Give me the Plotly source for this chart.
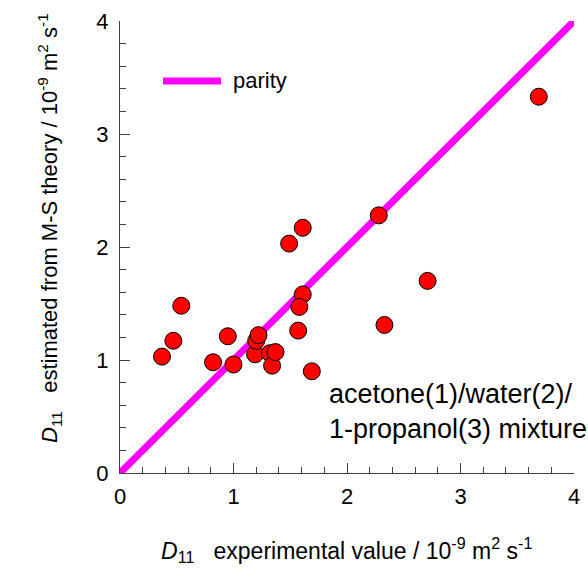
import plotly.graph_objects as go

# experimental D11 (x) vs M-S estimated D11 (y), 10^-9 m2/s
d11_exp = [0.37, 0.47, 0.54, 0.82, 0.95, 1.00, 1.19, 1.20, 1.22, 1.32, 1.34, 1.37,
           1.49, 1.61, 1.61, 1.58, 1.57, 1.69, 2.28, 2.71, 2.33, 3.69]
d11_ms = [1.03, 1.17, 1.48, 0.98, 1.21, 0.96, 1.05, 1.17, 1.22, 1.06, 0.95, 1.07,
          2.03, 2.17, 1.58, 1.47, 1.26, 0.90, 2.28, 1.70, 1.31, 3.33]
parity = [0, 4]

FONT = "Liberation Sans, Arial, sans-serif"
MAG = "#FF00FF"
AX = "#404040"

fig = go.Figure()
fig.add_trace(go.Scatter(x=parity, y=parity, mode="lines",
                         line=dict(color=MAG, width=7), name="parity",
                         showlegend=False, hoverinfo="skip", cliponaxis=False))
fig.add_trace(go.Scatter(x=d11_exp, y=d11_ms, mode="markers",
                         marker=dict(size=17, color="#FF0000",
                                     line=dict(color="black", width=1)),
                         showlegend=False, cliponaxis=False))

PW, PH = 454, 452
def px(xp):
    return (xp - 120) / PW
def py(yp):
    return (473 - yp) / PH

# legend key drawn manually
fig.add_shape(type="line", xref="paper", yref="paper",
              x0=px(163), x1=px(221), y0=py(81), y1=py(81),
              line=dict(color=MAG, width=7))
fig.add_annotation(xref="paper", yref="paper", x=px(231), y=py(80),
                   text="parity", showarrow=False, xanchor="left", yanchor="middle",
                   font=dict(family=FONT, size=22, color="black"))

fig.add_annotation(xref="paper", yref="paper", x=px(327), y=py(411),
                   text="acetone(1)/water(2)/<br>1-propanol(3) mixture",
                   showarrow=False, xanchor="left", yanchor="middle", align="left",
                   font=dict(family=FONT, size=27, color="black"))

# axis titles
fig.add_annotation(xref="paper", yref="paper", x=px(346), y=py(550),
                   text="<i>D</i><sub>11</sub> &nbsp;&nbsp;experimental value / 10<sup>-9</sup> m<sup>2</sup> s<sup>-1</sup>",
                   showarrow=False, xanchor="center", yanchor="middle",
                   font=dict(family=FONT, size=23, color="black"))
fig.add_annotation(xref="paper", yref="paper", x=px(49), y=py(228),
                   text="<i>D</i><sub>11</sub> &nbsp;&nbsp;estimated from M-S theory / 10<sup>-9</sup> m<sup>2</sup> s<sup>-1</sup>",
                   showarrow=False, xanchor="center", yanchor="middle", textangle=-90,
                   font=dict(family=FONT, size=22, color="black"))

axis_common = dict(range=[0, 4], dtick=1, showline=True, linecolor=AX, linewidth=1,
                   ticks="inside", ticklen=10, tickcolor=AX, tickwidth=1,
                   minor=dict(dtick=0.2, ticks="inside", ticklen=6, tickcolor=AX),
                   showgrid=False, zeroline=False, mirror=False, automargin=False,
                   tickfont=dict(family=FONT, size=22, color="black"))

fig.update_layout(
    width=588, height=569,
    margin=dict(l=120, r=14, t=21, b=96),
    paper_bgcolor="white", plot_bgcolor="white",
    font=dict(family=FONT, color="black"),
    xaxis=dict(**axis_common, ticklabelstandoff=4),
    yaxis=dict(**axis_common, ticklabelstandoff=6),
)

fig.write_html("out.html", config={"displayModeBar": False},
               post_script="document.body.style.margin='0px';")
